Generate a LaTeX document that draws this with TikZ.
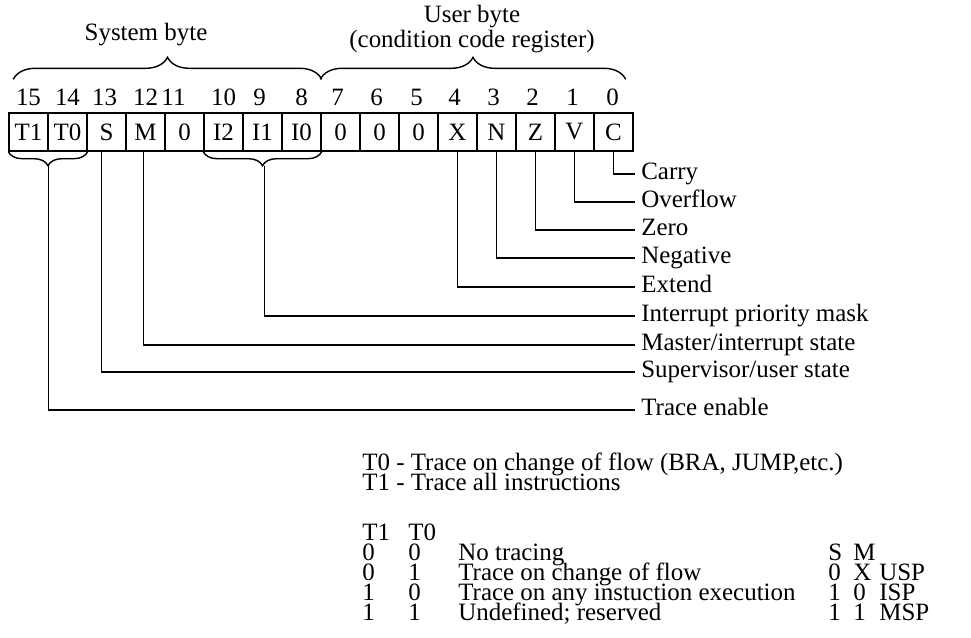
\documentclass[tikz,border=0pt]{standalone}
\usepackage{fontspec}
\setmainfont{Liberation Serif}
\usetikzlibrary{decorations.pathreplacing,calc}
\newcommand{\regfont}{\fontsize{14.2}{16}\selectfont}
\tikzset{
  bitcell/.style={draw, line width=0.8pt, minimum width=0.78cm, minimum height=0.76cm,
                  inner sep=0pt, font=\regfont},
  bitnum/.style={inner sep=0pt, font=\regfont},
  bytehead/.style={inner sep=0pt, font=\fontsize{14.2}{12.5}\selectfont, align=center},
  flaglabel/.style={anchor=west, inner sep=0pt, inner xsep=0.12cm, text height=1.4ex,
                    text depth=0pt, font=\regfont},
  notetext/.style={anchor=west, inner sep=0pt, text height=1.4ex, text depth=0pt, font=\regfont},
  topbrace/.style={decorate, decoration={brace, amplitude=0.44cm}, line width=0.8pt},
  lowbrace/.style={decorate, decoration={brace, mirror, amplitude=0.28cm}, line width=0.8pt},
  lead/.style={line width=0.8pt},
}
\begin{document}
\begin{tikzpicture}[x=0.02cm, y=-0.02cm]
  \useasboundingbox (0,0) rectangle (971,637);
  % status register cells
  \foreach \b/\t [count=\i from 0] in {15/T1,14/T0,13/S,12/M,11/0,10/I2,9/I1,8/I0,
                                       7/0,6/0,5/0,4/X,3/N,2/Z,1/V,0/C}
    \node[bitcell] (c\b) at ({28.5+39*\i},132) {\t};
  \foreach \b/\dx in {15/0,14/0,13/-2,12/0,11/-11,10/0,9/-3,8/0,7/-3,6/-3,5/-2,4/-3,3/-3,2/-3,1/-2,0/-1}
    \node[bitnum] (n\b) at ($(c\b)+(\dx,-35)$) {\b};
  % byte braces
  \draw[topbrace] ($(c15.north west)+(5,-33)$) -- ($(c8.north east)+(0,-33)$);
  \draw[topbrace] ($(c7.north west)+(0,-33)$) -- ($(c0.north east)+(-8,-33)$);
  \node[bytehead] (sysbyte) at (146,35) {System byte};
  \node[bytehead] (usrbyte) at (472,29) {User byte\\(condition code register)};
  % field braces
  \draw[lowbrace] (c15.south west) -- (c14.south east);
  \draw[lowbrace] (c10.south west) -- (c8.south east);
  \coordinate (ttip) at ($(c15.south east)+(0,14)$);
  \coordinate (itip) at ($(c9.south)+(2,14)$);
  % bit names
  \node[flaglabel] (carry)  at (635,174) {Carry};
  \node[flaglabel] (ovfl)   at (635,202) {Overflow};
  \node[flaglabel] (zero)   at (635,230) {Zero};
  \node[flaglabel] (neg)    at (635,258) {Negative};
  \node[flaglabel] (extend) at (635,287) {Extend};
  \node[flaglabel] (ipm)    at (635,316) {Interrupt priority mask};
  \node[flaglabel] (master) at (635,345) {Master/interrupt state};
  \node[flaglabel] (super)  at (635,372) {Supervisor/user state};
  \node[flaglabel] (trace)  at (635,410) {Trace enable};
  \draw[lead] (c0.south) |- (carry.west);
  \draw[lead] (c1.south) |- (ovfl.west);
  \draw[lead] (c2.south) |- (zero.west);
  \draw[lead] (c3.south) |- (neg.west);
  \draw[lead] (c4.south) |- (extend.west);
  \draw[lead] (itip) |- (ipm.west);
  \draw[lead] ($(c12.south)+(-2,0)$) |- (master.west);
  \draw[lead] ($(c13.south)+(-5,0)$) |- (super.west);
  \draw[lead] (ttip) |- (trace.west);
  % trace mode notes
  \node[notetext] (tzdef) at (362,465) {T0 - Trace on change of flow (BRA, JUMP,etc.)};
  \node[notetext] (todef) at (362,485) {T1 - Trace all instructions};
  \node[notetext] (hone)  at (362,535) {T1};
  \node[notetext] (hzero) at (408,535) {T0};
  \foreach \ta/\tb/\txt [count=\r] in {0/0/No tracing,0/1/Trace on change of flow,
                                       1/0/Trace on any instuction execution,1/1/Undefined; reserved} {
    \node[notetext] (tone\r)  at (362,{535+20*\r}) {\ta};
    \node[notetext] (tzero\r) at (408,{535+20*\r}) {\tb};
    \node[notetext] (tdesc\r) at (458,{535+20*\r}) {\txt};
  }
  \node[notetext] (shead) at (828,555) {S};
  \node[notetext] (mhead) at (853,555) {M};
  \foreach \sv/\mv/\sp [count=\r from 2] in {0/X/USP,1/0/ISP,1/1/MSP} {
    \node[notetext] (sbit\r) at (828,{535+20*\r}) {\sv};
    \node[notetext] (mbit\r) at (853,{535+20*\r}) {\mv};
    \node[notetext] (stk\r)  at (879,{535+20*\r}) {\sp};
  }
\end{tikzpicture}
\end{document}
